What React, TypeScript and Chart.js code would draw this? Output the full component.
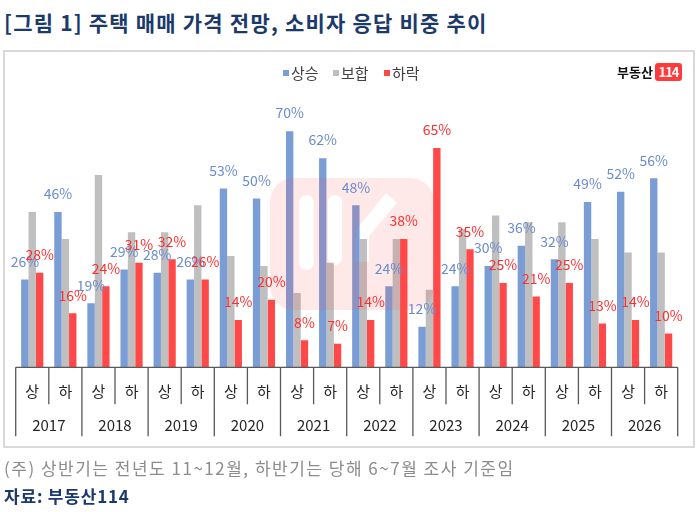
import React, { useEffect, useRef } from 'react';
import { Chart, registerables } from 'chart.js';

Chart.register(...registerables);

// half-year survey categories (상반기 / 하반기)
const halves = ['상', '하', '상', '하', '상', '하', '상', '하', '상', '하', '상', '하', '상', '하', '상', '하', '상', '하', '상', '하'];
const years = ['2017', '2018', '2019', '2020', '2021', '2022', '2023', '2024', '2025', '2026'];
const seriesNames = ['상승', '보합', '하락'];

// response share (%)
const rise = [26, 46, 19, 29, 28, 26, 53, 50, 70, 62, 48, 24, 12, 24, 30, 36, 32, 49, 52, 56];
const flat = [46, 38, 57, 40, 40, 48, 33, 30, 22, 31, 38, 38, 23, 41, 45, 43, 43, 38, 34, 34];
const fall = [28, 16, 24, 31, 32, 26, 14, 20, 8, 7, 14, 38, 65, 35, 25, 21, 25, 13, 14, 10];

const BLUE = '#7b9dd6';
const GRAY = '#bfbfbf';
const RED = '#ff4848';
const BLUE_TXT = '#6a8cd0';
const RED_TXT = '#ff2f2f';
const NAVY = '#1b3a6b';
const FONT = '"Noto Sans CJK KR", "Noto Sans", sans-serif';

const overlay = {
  id: 'overlay',
  afterDatasetsDraw(chart: any) {
    const ctx = chart.ctx;
    // faint 114 watermark
    ctx.save();
    ctx.fillStyle = 'rgba(255, 80, 80, 0.13)';
    ctx.beginPath();
    ctx.roundRect(270, 178, 164, 132, 24);
    ctx.roundRect(299, 195, 15, 75, 7.5);
    ctx.roundRect(328, 195, 14, 70, 7);
    ctx.moveTo(386, 193);
    ctx.lineTo(397, 203);
    ctx.lineTo(369, 236);
    ctx.lineTo(369, 262);
    ctx.lineTo(356, 262);
    ctx.lineTo(356, 230);
    ctx.closePath();
    ctx.fill('evenodd');
    ctx.restore();

    // value labels for 상승 and 하락
    ctx.save();
    ctx.font = `14px ${FONT}`;
    ctx.textAlign = 'center';
    ctx.textBaseline = 'middle';
    [0, 2].forEach((di) => {
      const meta = chart.getDatasetMeta(di);
      ctx.fillStyle = di === 0 ? BLUE_TXT : RED_TXT;
      meta.data.forEach((bar: any, i: number) => {
        const v = chart.data.datasets[di].data[i];
        ctx.fillText(`${v}%`, bar.x, bar.y - 18);
      });
    });
    ctx.restore();
  },
  afterDraw(chart: any) {
    const ctx = chart.ctx;
    const x = chart.scales.x;
    const { left, right, bottom } = chart.chartArea;
    const n = halves.length;
    const w = (right - left) / n;
    ctx.save();
    ctx.strokeStyle = '#595959';
    ctx.lineWidth = 1.3;
    ctx.beginPath();
    ctx.moveTo(left, bottom);
    ctx.lineTo(right, bottom);
    for (let i = 0; i <= n; i++) {
      const bx = i < n ? x.getPixelForValue(i) - w / 2 : x.getPixelForValue(n - 1) + w / 2;
      ctx.moveTo(bx, bottom);
      ctx.lineTo(bx, i % 2 === 0 ? bottom + 69 : bottom + 37);
    }
    ctx.stroke();
    ctx.fillStyle = '#262626';
    ctx.textAlign = 'center';
    ctx.textBaseline = 'middle';
    ctx.font = `15px ${FONT}`;
    halves.forEach((h, i) => ctx.fillText(h, x.getPixelForValue(i), bottom + 24));
    years.forEach((y, k) => {
      const cx = (x.getPixelForValue(2 * k) + x.getPixelForValue(2 * k + 1)) / 2;
      ctx.fillText(y, cx, bottom + 58);
    });
    ctx.restore();
  },
};

const BarChart: React.FC = () => {
  const chartRef = useRef<HTMLCanvasElement | null>(null);
  const chartInstance = useRef<Chart | null>(null);

  useEffect(() => {
    if (chartInstance.current) {
      chartInstance.current.destroy();
    }
    const canvas = chartRef.current;
    if (canvas) {
      chartInstance.current = new Chart(canvas, {
        type: 'bar',
        data: {
          labels: halves,
          datasets: [
            { label: seriesNames[0], data: rise, backgroundColor: BLUE, categoryPercentage: 0.67, barPercentage: 1 },
            { label: seriesNames[1], data: flat, backgroundColor: GRAY, categoryPercentage: 0.67, barPercentage: 1 },
            { label: seriesNames[2], data: fall, backgroundColor: RED, categoryPercentage: 0.67, barPercentage: 1 },
          ],
        },
        options: {
          responsive: false,
          animation: false,
          layout: { padding: { left: 15.7, right: 22.3, top: 97.4, bottom: 144.7 } },
          plugins: { legend: { display: false }, tooltip: { enabled: false } },
          scales: {
            x: { display: false },
            y: { display: false, min: 0, max: 80 },
          },
        },
        plugins: [overlay],
      });
    }
    return () => {
      if (chartInstance.current) {
        chartInstance.current.destroy();
        chartInstance.current = null;
      }
    };
  }, []);

  return <canvas ref={chartRef} width={700} height={512} style={{ position: 'absolute', left: 0, top: 0, width: 700, height: 512 }} />;
};

const legendColors = [BLUE, GRAY, RED];
const legendX = [283, 333, 384];

export default function App() {
  return (
    <div style={{ position: 'absolute', left: 0, top: 0, width: 700, height: 512, background: '#fff', fontFamily: FONT, overflow: 'hidden' }}>
      <div style={{ position: 'absolute', left: 4, top: 7, lineHeight: '30px', fontSize: 21, fontWeight: 700, letterSpacing: 1.2, color: NAVY, whiteSpace: 'nowrap' }}>
        [그림 1] 주택 매매 가격 전망, 소비자 응답 비중 추이
      </div>
      <div style={{ position: 'absolute', left: 3, top: 50, width: 688, height: 394, border: '2px solid #d9d9d9' }} />
      <BarChart />
      {seriesNames.map((name, i) => (
        <div key={name} style={{ position: 'absolute', left: legendX[i], top: 62, height: 22, display: 'flex', alignItems: 'center', whiteSpace: 'nowrap' }}>
          <span style={{ display: 'inline-block', width: 6, height: 6, background: legendColors[i], marginRight: 2 }} />
          <span style={{ fontSize: 15, lineHeight: '22px', color: '#404040' }}>{name}</span>
        </div>
      ))}
      <div style={{ position: 'absolute', right: 47, top: 62, lineHeight: '20px', fontSize: 13, fontWeight: 700, color: '#111' }}>부동산</div>
      <div style={{ position: 'absolute', left: 655, top: 63, width: 27, height: 18, borderRadius: 3, background: '#ff3b3b', color: '#fff', fontSize: 13, fontWeight: 700, lineHeight: '18px', textAlign: 'center', letterSpacing: -1 }}>114</div>
      <div style={{ position: 'absolute', left: 4, top: 456, lineHeight: '24px', fontSize: 17, letterSpacing: 1.5, color: '#8c8c8c', whiteSpace: 'nowrap' }}>
        (주) 상반기는 전년도 11~12월, 하반기는 당해 6~7월 조사 기준임
      </div>
      <div style={{ position: 'absolute', left: 4, top: 484, lineHeight: '24px', fontSize: 17, fontWeight: 700, letterSpacing: 0.8, color: NAVY, whiteSpace: 'nowrap' }}>
        자료: 부동산114
      </div>
    </div>
  );
}
